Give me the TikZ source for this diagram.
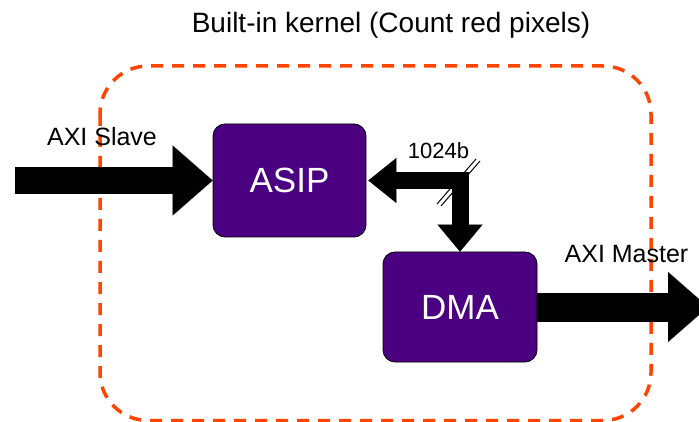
\documentclass[tikz,border=0pt]{standalone}
\usepackage{fontspec}
\setmainfont{Liberation Sans}
\usetikzlibrary{arrows.meta,calc}
\definecolor{blockfill}{RGB}{75,0,130}
\definecolor{frameorange}{RGB}{255,69,0}
\begin{document}
\begin{tikzpicture}[x=1pt,y=-1pt,
  block/.style={draw=black, line width=0.8pt, fill=blockfill, rounded corners=12pt,
    text=white, font=\fontsize{35}{40}\selectfont, inner sep=0pt},
  lbl/.style={inner sep=0pt, font=\fontsize{25}{28}\selectfont},
  slash/.style={line width=1pt}
]
\useasboundingbox (0,0) rectangle (699,422);

% dashed kernel frame
\draw[frameorange, line width=3.5pt, dash pattern=on 12pt off 9pt, rounded corners=48pt]
  (100,66) rectangle (651,420.5);

% title and port labels
\node[lbl, anchor=base, font=\fontsize{28}{32}\selectfont] (title) at (391,33) {Built-in kernel (Count red pixels)};
\node[lbl, anchor=base] (slavelbl) at (102,146) {AXI Slave};
\node[lbl, anchor=base] (masterlbl) at (626.5,262) {AXI Master};
\node[lbl, anchor=base, font=\fontsize{22}{25}\selectfont] (buswidth) at (438.5,159) {1024b};

% processing blocks
\node[block, minimum width=153pt, minimum height=113pt] (asip) at (289.5,180.5) {ASIP};
\node[block, minimum width=154pt, minimum height=110pt] (dma) at (460,307) {DMA};

% bus-width marks across the bend
\draw[slash] (437,204) -- (476,159);
\draw[slash] (441,206) -- (480,161);

% AXI ports
\coordinate (slavein) at (15,180.5);
\coordinate (masterout) at (708,307);
\draw[line width=27pt, -{Triangle[length=40pt,width=70pt,line width=0.01pt]}] (slavein) -- (asip.west);
\draw[line width=29pt, -{Triangle[length=40pt,width=70pt,line width=0.01pt]}] (dma.east) -- (masterout);

% internal 1024-bit bus
\draw[line width=17pt, line join=miter,
  {Triangle[length=28pt,width=45pt,line width=0.01pt]}-{Triangle[length=27pt,width=45pt,line width=0.01pt]}]
  ([xshift=2pt]asip.east) -| (dma.north);
\end{tikzpicture}
\end{document}
